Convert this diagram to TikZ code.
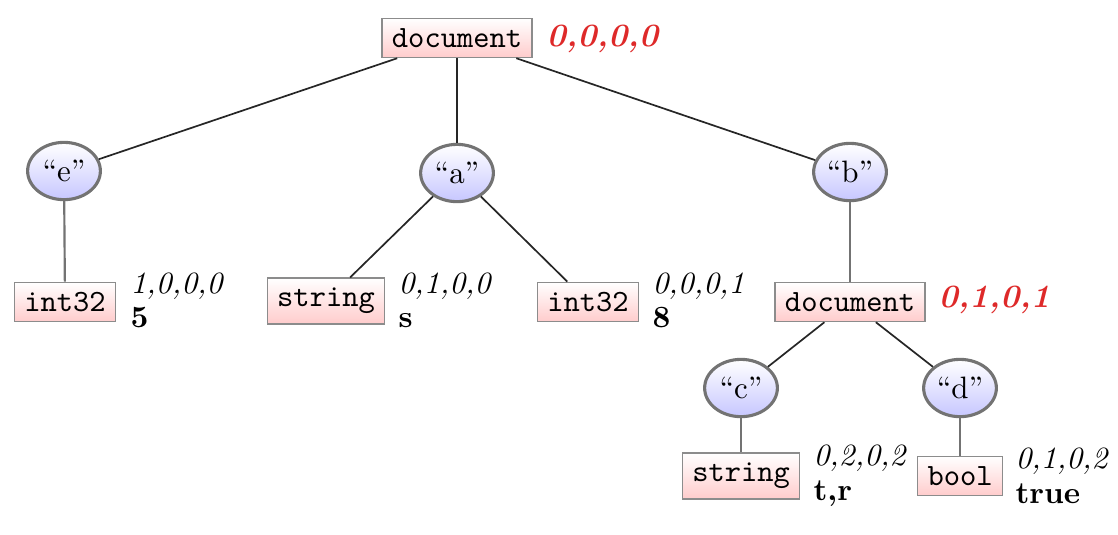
\documentclass[tikz,border=0pt]{standalone}
\usetikzlibrary{shapes.geometric}
\definecolor{labred}{rgb}{0.87,0.16,0.16}
\begin{document}
\begin{tikzpicture}[x=0.323pt,y=-0.323pt,
  typebox/.style={draw=black!45, line width=0.5pt, top color=white, bottom color=red!20, inner sep=3.2pt, font=\ttfamily},
  keynode/.style={ellipse, draw=black!55, line width=1pt, top color=white, bottom color=blue!22, minimum width=23.5pt, minimum height=18.5pt, inner sep=0.5pt},
  coordlbl/.style={anchor=base west, inner sep=0pt, font=\itshape},
  redlbl/.style={anchor=base west, inner sep=0pt, font=\fontsize{10.5}{12}\selectfont\bfseries\itshape, text=labred},
  vallbl/.style={anchor=base west, inner sep=0pt, font=\bfseries},
  conn/.style={draw=black!85, line width=0.55pt},
  gconn/.style={draw=black!55, line width=0.7pt}]
\useasboundingbox (0,0) rectangle (1118,534);
% nodes
\node[typebox] (doc) at (457,38) {document};
\node[redlbl] (docl) at (546,46) {0,0,0,0};
\node[keynode] (e) at (64,171) {``e''};
\node[keynode] (a) at (457,173) {``a''};
\node[keynode] (b) at (850,172) {``b''};
\node[typebox] (i1) at (65,302) {int32};
\node[coordlbl] (i1p) at (130,293) {1,0,0,0};
\node[vallbl] (i1v) at (130,327) {5};
\node[typebox] (s1) at (326,301) {string};
\node[coordlbl] (s1p) at (398,293) {0,1,0,0};
\node[vallbl] (s1v) at (398,327) {s};
\node[typebox] (i2) at (588,302) {int32};
\node[coordlbl] (i2p) at (652,293) {0,0,0,1};
\node[vallbl] (i2v) at (652,327) {8};
\node[typebox] (doc2) at (850,302) {document};
\node[redlbl] (doc2l) at (938,307) {0,1,0,1};
\node[keynode] (c) at (741,388) {``c''};
\node[keynode] (d) at (960,388) {``d''};
\node[typebox] (s2) at (741,476) {string};
\node[coordlbl] (s2p) at (813,465) {0,2,0,2};
\node[vallbl] (s2v) at (813,500) {t,r};
\node[typebox] (bo) at (960,476) {bool};
\node[coordlbl] (bop) at (1015,468) {0,1,0,2};
\node[vallbl] (bov) at (1015,503) {true};
% edges
\draw[conn] (doc) -- (e);
\draw[conn] (doc) -- (a);
\draw[conn] (doc) -- (b);
\draw[gconn] (e) -- (i1);
\draw[conn] (a) -- (s1);
\draw[conn] (a) -- (i2);
\draw[gconn] (b) -- (doc2);
\draw[conn] (doc2) -- (c);
\draw[conn] (doc2) -- (d);
\draw[gconn] (c) -- (s2);
\draw[gconn] (d) -- (bo);
\end{tikzpicture}
\end{document}
